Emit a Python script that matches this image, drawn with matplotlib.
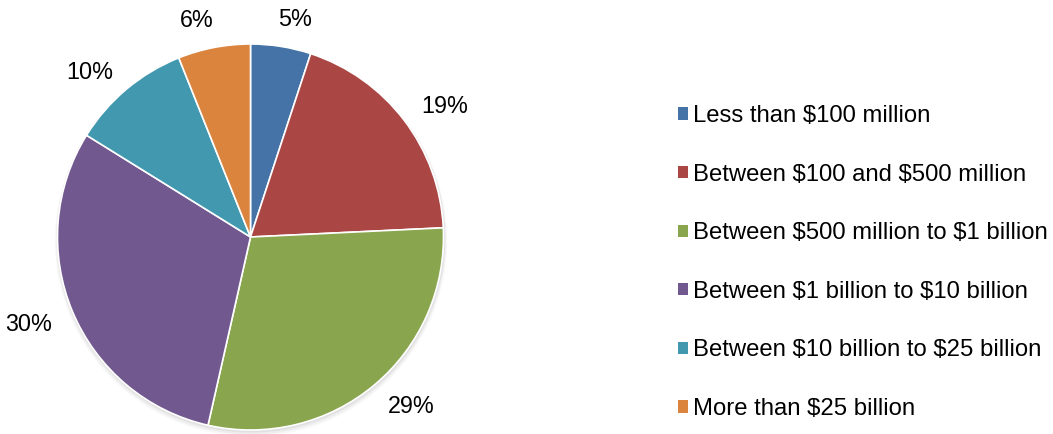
import numpy as np
import matplotlib.pyplot as plt
from matplotlib.patches import Circle

plt.rcParams['font.family'] = ['Liberation Sans', 'DejaVu Sans']
plt.rcParams['text.parse_math'] = False

categories = ['Less than $100 million', 'Between $100 and $500 million',
              'Between $500 million to $1 billion',
              'Between $1 billion to $10 billion',
              'Between $10 billion to $25 billion', 'More than $25 billion']
shares = [5, 19, 29, 30, 10, 6]
pct_labels = ['5%', '19%', '29%', '30%', '10%', '6%']
colors = ['#4572A7', '#AA4643', '#89A54E', '#71588F', '#4198AF', '#DB843D']

W, H = 1053, 434
fig = plt.figure(figsize=(W / 100, H / 100), dpi=100)
ax = fig.add_axes([0, 0, 1, 1])

cx, cy, r = 250.5, H - 237, 193

# soft shadow under the pie
for i, a in enumerate([0.05, 0.04, 0.03]):
  ax.add_patch(Circle((cx + 0.5, cy - 1.5 - i), r + 1 + i, color='black',
                      alpha=a, lw=0, zorder=0))

wedges, texts = ax.pie(shares, labels=pct_labels, colors=colors,
                       startangle=90, counterclock=False, center=(cx, cy),
                       radius=r, labeldistance=1.13, frame=True,
                       wedgeprops=dict(edgecolor='white', linewidth=1.2),
                       textprops=dict(fontsize=16.8, color='#000000'))
# pie() aligns on absolute x, so redo the alignment around the centre
for t in texts:
  x, y = t.get_position()
  dx = x - cx
  if abs(dx) < 0.3 * r:
    t.set_horizontalalignment('center')
    t.set_position((cx + dx * 1.3, y + 2))
  elif dx < 0:
    t.set_horizontalalignment('right')
    t.set_position((x + 3, y - 3))
  else:
    t.set_horizontalalignment('left')
    t.set_position((x - 3, y - 2))

ax.set_xlim(0, W)
ax.set_ylim(0, H)
ax.set_aspect('equal')
ax.axis('off')

leg = ax.legend(wedges, categories, loc='center left',
                bbox_to_anchor=(678 / W, 171.5 / H), frameon=False,
                fontsize=17.2, handlelength=0.42, handleheight=0.42,
                handletextpad=0.22, labelspacing=1.53, borderpad=0,
                borderaxespad=0)
for h in leg.legend_handles:
  h.set_edgecolor('none')

fig.savefig('out.png', dpi=100)
